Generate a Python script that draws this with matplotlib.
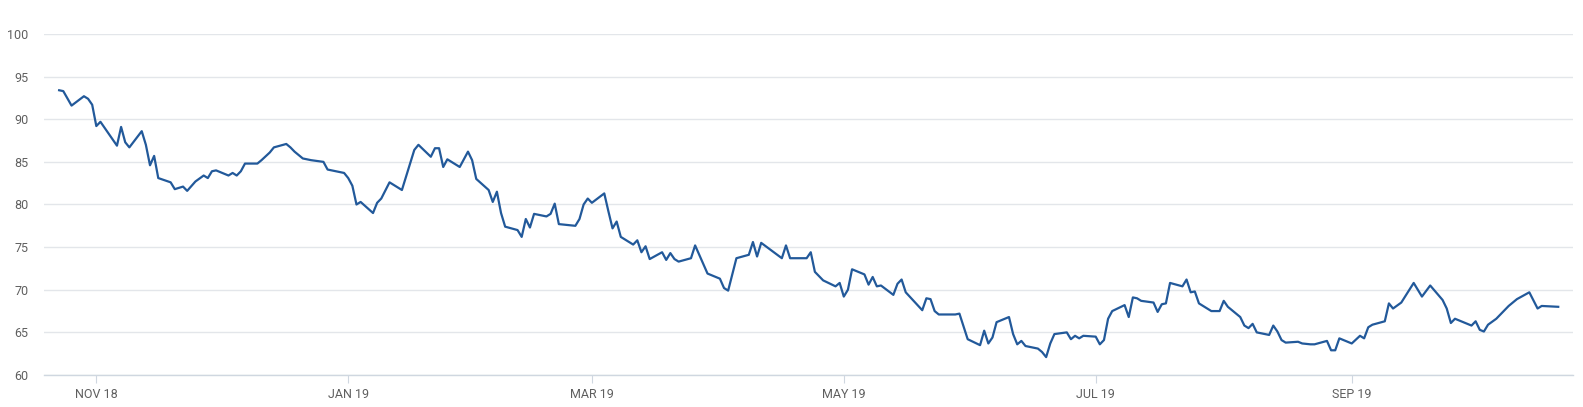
import pandas as pd
import matplotlib.pyplot as plt

# ===========================
#      Data
# ===========================
dates = [
    "2018-10-23", "2018-10-24", "2018-10-26", "2018-10-29", "2018-10-30", "2018-10-31",
    "2018-11-01", "2018-11-02", "2018-11-06", "2018-11-07", "2018-11-08", "2018-11-09",
    "2018-11-12", "2018-11-13", "2018-11-14", "2018-11-15", "2018-11-16", "2018-11-19",
    "2018-11-20", "2018-11-22", "2018-11-23", "2018-11-25", "2018-11-27", "2018-11-28",
    "2018-11-29", "2018-11-30",
    "2018-12-03", "2018-12-04", "2018-12-05", "2018-12-06", "2018-12-07", "2018-12-10",
    "2018-12-11", "2018-12-13", "2018-12-14", "2018-12-17", "2018-12-18", "2018-12-19",
    "2018-12-21", "2018-12-23", "2018-12-26", "2018-12-27", "2018-12-31",
    "2019-01-01", "2019-01-02", "2019-01-03", "2019-01-04", "2019-01-07", "2019-01-08",
    "2019-01-09", "2019-01-11", "2019-01-14", "2019-01-17", "2019-01-18", "2019-01-21",
    "2019-01-22", "2019-01-23", "2019-01-24", "2019-01-25", "2019-01-28", "2019-01-30",
    "2019-01-31",
    "2019-02-01", "2019-02-04", "2019-02-05", "2019-02-06", "2019-02-07", "2019-02-08",
    "2019-02-11", "2019-02-12", "2019-02-13", "2019-02-14", "2019-02-15", "2019-02-18",
    "2019-02-19", "2019-02-20", "2019-02-21", "2019-02-25", "2019-02-26", "2019-02-27",
    "2019-02-28",
    "2019-03-01", "2019-03-04", "2019-03-05", "2019-03-06", "2019-03-07", "2019-03-08",
    "2019-03-11", "2019-03-12", "2019-03-13", "2019-03-14", "2019-03-15", "2019-03-18",
    "2019-03-19", "2019-03-20", "2019-03-21", "2019-03-22", "2019-03-25", "2019-03-26",
    "2019-03-29",
    "2019-04-01", "2019-04-02", "2019-04-03", "2019-04-05", "2019-04-08", "2019-04-09",
    "2019-04-10", "2019-04-11", "2019-04-16", "2019-04-17", "2019-04-18", "2019-04-22",
    "2019-04-23", "2019-04-24", "2019-04-26", "2019-04-29", "2019-04-30",
    "2019-05-01", "2019-05-02", "2019-05-03", "2019-05-06", "2019-05-07", "2019-05-08",
    "2019-05-09", "2019-05-10", "2019-05-13", "2019-05-14", "2019-05-15", "2019-05-16",
    "2019-05-20", "2019-05-21", "2019-05-22", "2019-05-23", "2019-05-24", "2019-05-28",
    "2019-05-29", "2019-05-31",
    "2019-06-03", "2019-06-04", "2019-06-05", "2019-06-06", "2019-06-07", "2019-06-10",
    "2019-06-11", "2019-06-12", "2019-06-13", "2019-06-14", "2019-06-17", "2019-06-18",
    "2019-06-19", "2019-06-20", "2019-06-21", "2019-06-24", "2019-06-25", "2019-06-26",
    "2019-06-27", "2019-06-28",
    "2019-07-01", "2019-07-02", "2019-07-03", "2019-07-04", "2019-07-05", "2019-07-08",
    "2019-07-09", "2019-07-10", "2019-07-11", "2019-07-12", "2019-07-15", "2019-07-16",
    "2019-07-17", "2019-07-18", "2019-07-19", "2019-07-22", "2019-07-23", "2019-07-24",
    "2019-07-25", "2019-07-26", "2019-07-29", "2019-07-31",
    "2019-08-01", "2019-08-02", "2019-08-05", "2019-08-06", "2019-08-07", "2019-08-08",
    "2019-08-09", "2019-08-12", "2019-08-13", "2019-08-14", "2019-08-15", "2019-08-16",
    "2019-08-19", "2019-08-20", "2019-08-22", "2019-08-23", "2019-08-26", "2019-08-27",
    "2019-08-28", "2019-08-29",
    "2019-09-01", "2019-09-03", "2019-09-04", "2019-09-05", "2019-09-06", "2019-09-09",
    "2019-09-10", "2019-09-11", "2019-09-13", "2019-09-16", "2019-09-18", "2019-09-20",
    "2019-09-23", "2019-09-24", "2019-09-25", "2019-09-26", "2019-09-30",
    "2019-10-01", "2019-10-02", "2019-10-03", "2019-10-04", "2019-10-06", "2019-10-08",
    "2019-10-09", "2019-10-11", "2019-10-14", "2019-10-16", "2019-10-17", "2019-10-21",
]

values = [
    93.4, 93.3, 91.6, 92.7, 92.4, 91.7,
    89.2, 89.7, 86.9, 89.1, 87.3, 86.7,
    88.6, 87.0, 84.6, 85.7, 83.1, 82.6,
    81.8, 82.1, 81.6, 82.7, 83.4, 83.1,
    83.9, 84.0,
    83.4, 83.7, 83.4, 83.9, 84.8, 84.8,
    85.2, 86.1, 86.7, 87.1, 86.7, 86.2,
    85.4, 85.2, 85.0, 84.1, 83.7,
    83.1, 82.2, 80.0, 80.3, 79.0, 80.2,
    80.7, 82.6, 81.7, 86.4, 87.0, 85.6,
    86.6, 86.6, 84.4, 85.3, 84.4, 86.2,
    85.2,
    83.0, 81.7, 80.3, 81.5, 79.0, 77.4,
    77.0, 76.2, 78.3, 77.3, 78.9, 78.6,
    78.9, 80.1, 77.7, 77.5, 78.3, 80.0,
    80.7,
    80.2, 81.3, 79.2, 77.2, 78.0, 76.2,
    75.3, 75.8, 74.4, 75.1, 73.6, 74.4,
    73.5, 74.3, 73.6, 73.3, 73.7, 75.2,
    71.9,
    71.3, 70.2, 69.9, 73.7, 74.1, 75.6,
    73.9, 75.5, 73.7, 75.2, 73.7, 73.7,
    74.4, 72.1, 71.1, 70.4, 70.8,
    69.2, 70.0, 72.4, 71.8, 70.6, 71.5,
    70.4, 70.5, 69.4, 70.7, 71.2, 69.7,
    67.6, 69.0, 68.9, 67.5, 67.1, 67.1,
    67.2, 64.2,
    63.5, 65.2, 63.7, 64.4, 66.2, 66.8,
    64.8, 63.6, 64.0, 63.4, 63.1, 62.7,
    62.1, 63.7, 64.8, 65.0, 64.2, 64.6,
    64.3, 64.6,
    64.5, 63.6, 64.1, 66.6, 67.5, 68.2,
    66.8, 69.1, 69.0, 68.7, 68.5, 67.4,
    68.3, 68.4, 70.8, 70.4, 71.2, 69.7,
    69.8, 68.4, 67.5, 67.5,
    68.7, 68.0, 66.8, 65.8, 65.5, 66.0,
    65.0, 64.7, 65.8, 65.1, 64.1, 63.8,
    63.9, 63.7, 63.6, 63.6, 64.0, 62.9,
    62.9, 64.3,
    63.7, 64.6, 64.3, 65.6, 65.9, 66.3,
    68.4, 67.8, 68.5, 70.8, 69.2, 70.5,
    68.8, 67.8, 66.1, 66.6, 65.8,
    66.3, 65.3, 65.1, 65.9, 66.6, 67.6,
    68.1, 68.9, 69.7, 67.8, 68.1, 68.0,
]

tick_dates = ["2018-11-01", "2019-01-01", "2019-03-01", "2019-05-01", "2019-07-01", "2019-09-01"]
tick_labels = ["NOV 18", "JAN 19", "MAR 19", "MAY 19", "JUL 19", "SEP 19"]
y_ticks = [60, 65, 70, 75, 80, 85, 90, 95, 100]

df = pd.DataFrame({"date": pd.to_datetime(dates), "value": values})

# ===========================
#      Plot
# ===========================
plt.rcParams['font.family'] = ['Roboto', 'DejaVu Sans']

fig = plt.figure(figsize=(15.83, 4.07), dpi=100)
ax = fig.add_axes([0.0278, 0.0786, 0.9659, 0.8379])

ax.plot(df["date"], df["value"], color="#22599a", linewidth=1.6, zorder=3)

ax.set_ylim(60, 100)
ax.set_yticks(y_ticks)
ax.set_xlim(pd.Timestamp("2018-10-19 08:00"), pd.Timestamp("2019-10-24 14:00"))
ax.set_xticks(pd.to_datetime(tick_dates))
ax.set_xticklabels(tick_labels)

ax.grid(axis="y", color="#e3e6ea", linewidth=1.0)
ax.grid(axis="x", visible=False)
for side in ["top", "right", "left"]:
    ax.spines[side].set_visible(False)
ax.spines["bottom"].set_color("#cfd7e0")
ax.spines["bottom"].set_linewidth(1.0)

ax.tick_params(axis="y", length=0, pad=11, labelsize=9, labelcolor="#5f5f5f")
ax.tick_params(axis="x", length=6, width=0.8, color="#cfd7e0", pad=3,
               labelsize=9, labelcolor="#5f5f5f")

fig.savefig("out.png", dpi=100, facecolor="white")
plt.close()
